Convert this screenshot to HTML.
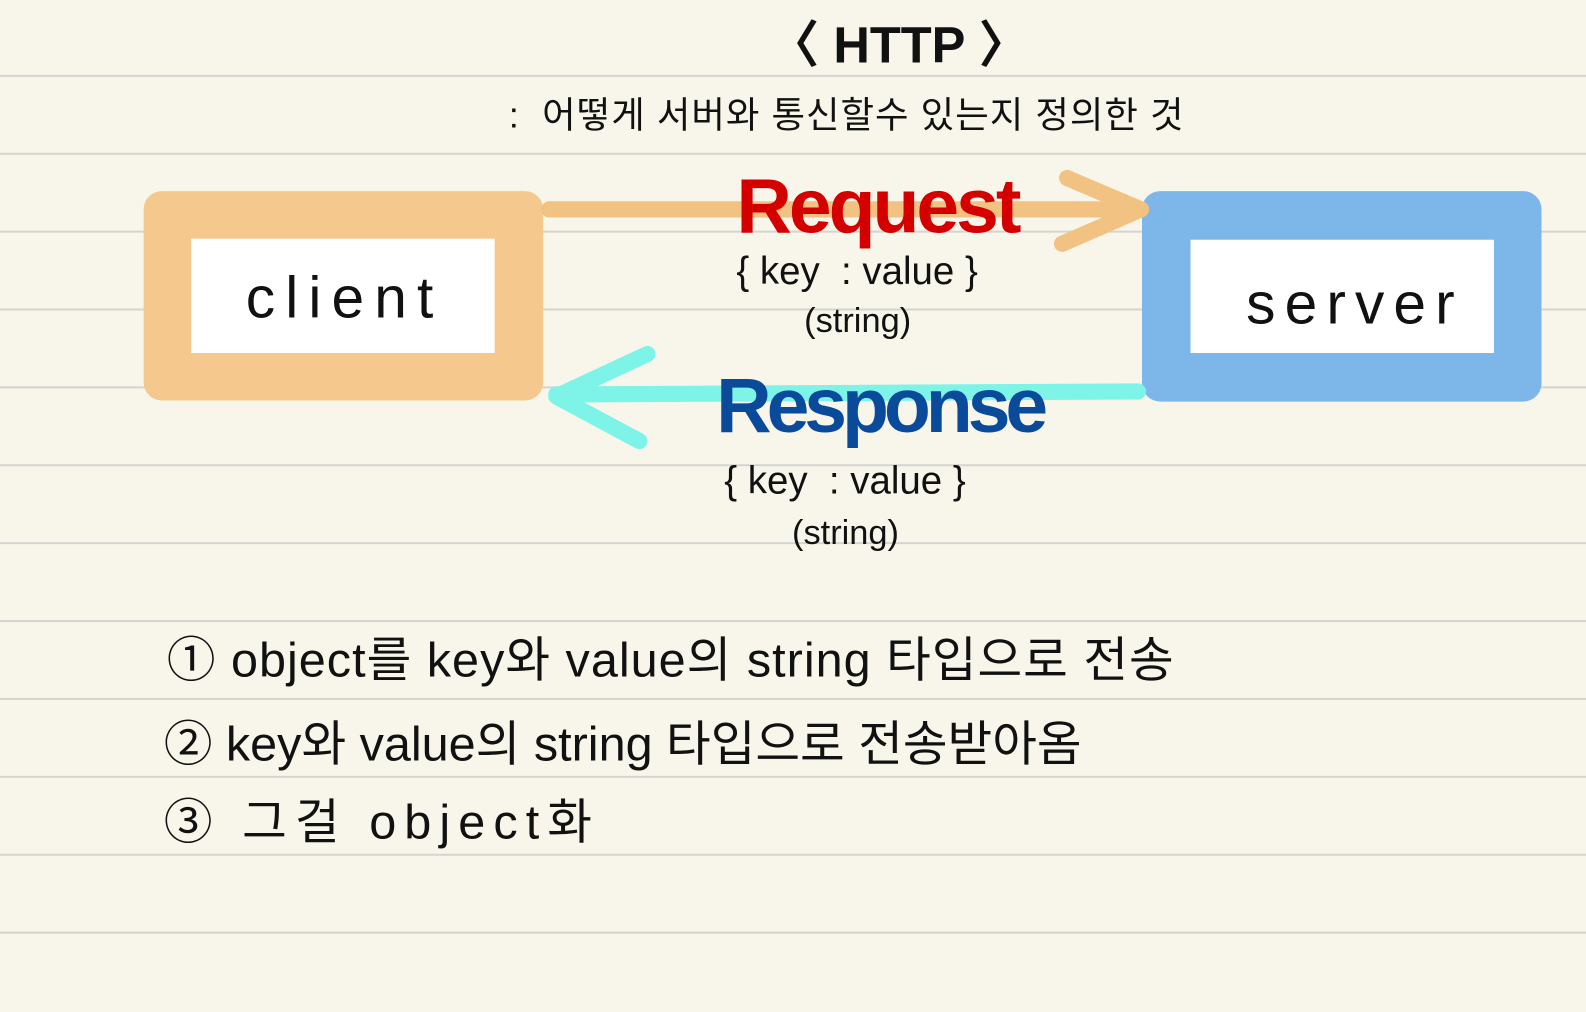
<!DOCTYPE html>
<html><head><meta charset="utf-8"><style>
html,body{margin:0;padding:0}
body{width:1586px;height:1000px;background:#f8f6ea;overflow:hidden;font-family:"Liberation Sans","Noto Sans CJK KR",sans-serif;color:#111}
#w{position:absolute;left:0;top:0;width:1568px;height:990px;transform:scale(1.0115);transform-origin:0 0}
.t{position:absolute;white-space:nowrap;line-height:1}
</style></head><body><div id="w">
<svg width="1586" height="1000" style="position:absolute;left:0;top:0">
<g stroke="#d4d4d0" stroke-width="2">
<line x1="0" y1="75" x2="1586" y2="75"/><line x1="0" y1="152" x2="1586" y2="152"/>
<line x1="0" y1="229" x2="1586" y2="229"/><line x1="0" y1="306" x2="1586" y2="306"/>
<line x1="0" y1="383" x2="1586" y2="383"/><line x1="0" y1="460" x2="1586" y2="460"/>
<line x1="0" y1="537" x2="1586" y2="537"/><line x1="0" y1="614" x2="1586" y2="614"/>
<line x1="0" y1="691" x2="1586" y2="691"/><line x1="0" y1="768" x2="1586" y2="768"/>
<line x1="0" y1="845" x2="1586" y2="845"/><line x1="0" y1="922" x2="1586" y2="922"/>
</g>
<rect x="142" y="189" width="395" height="207" rx="18" fill="#f5c88e"/>
<rect x="189" y="236" width="300" height="113" fill="#fff"/>
<rect x="1129" y="189" width="395" height="208" rx="18" fill="#7db6e8"/>
<rect x="1177" y="237" width="300" height="112" fill="#fff"/>
<g stroke="#f2c283" stroke-width="16" stroke-linecap="round" fill="none" stroke-linejoin="round">
<line x1="543" y1="207" x2="1128" y2="207"/>
<polyline points="1055,176 1128,207 1050,241"/>
</g>
<g stroke="#7ef3e8" stroke-width="16" stroke-linecap="round" fill="none" stroke-linejoin="round">
<line x1="1125" y1="387" x2="550" y2="390"/>
<polyline points="640,350 550,392 632,436"/>
</g>
</svg>
<div class="t" style="left:760px;top:20px;font-size:50px;font-weight:bold">〈 HTTP 〉</div>
<div class="t" style="left:503px;top:96px;font-size:36px;letter-spacing:1px">:&nbsp; 어떻게 서버와 통신할수 있는지 정의한 것</div>
<div class="t" style="left:243px;top:266px;font-size:58px;letter-spacing:10px">client</div>
<div class="t" style="left:1232px;top:272px;font-size:58px;letter-spacing:9px">server</div>
<div class="t" style="left:728px;top:167px;font-size:76px;font-weight:bold;color:#d40000;letter-spacing:-3px">Request</div>
<div class="t" style="left:728px;top:250px;font-size:38px">{ key&nbsp; : value }</div>
<div class="t" style="left:795px;top:300px;font-size:34px">(string)</div>
<div class="t" style="left:708px;top:364px;font-size:76px;font-weight:bold;color:#0a4a9a;letter-spacing:-5px">Response</div>
<div class="t" style="left:716px;top:457px;font-size:38px">{ key&nbsp; : value }</div>
<div class="t" style="left:783px;top:510px;font-size:34px">(string)</div>
<div class="t" style="left:165px;top:630px;font-size:48px;letter-spacing:1px">① object를 key와 value의 string 타입으로 전송</div>
<div class="t" style="left:162px;top:713px;font-size:48px;letter-spacing:0px">② key와 value의 string 타입으로 전송받아옴</div>
<div class="t" style="left:162px;top:790px;font-size:48px;letter-spacing:8px">③ 그걸 object화</div>
</div></body></html>
